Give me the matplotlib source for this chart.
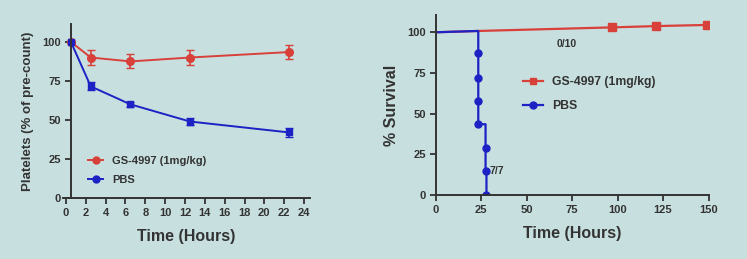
import matplotlib.pyplot as plt

# left panel: platelets
hours = [0.5, 2.5, 6.5, 12.5, 22.5]
gs_platelets = [100, 90, 87.5, 90, 93.5]
gs_err = [0, 4.5, 4.5, 4.5, 4.5]
pbs_platelets = [100, 71.5, 60, 49, 42]
pbs_err = [0, 2.5, 1.5, 2.5, 3]

# right panel: survival
gs_surv_t = [0, 23.5, 97, 121, 149]
gs_surv = [100, 100.8, 103, 103.8, 104.5]
gs_mark_t = [97, 121, 149]
gs_mark = [103, 103.8, 104.5]
pbs_surv_t = [0, 23.5, 23.5, 27.5, 27.5, 28, 28]
pbs_surv = [100, 100.8, 43.5, 43.5, 15, 15, 0]
pbs_mark_t = [23.5, 23.5, 23.5, 23.5, 27.5, 27.5, 28]
pbs_mark = [87, 72, 58, 43.5, 29, 15, 0]

RED = "#d8403a"
BLUE = "#1c22c4"
BG = "#c8dfdf"
INK = "#333333"

plt.rcParams["font.family"] = "Liberation Sans"
plt.rcParams["font.weight"] = "bold"

fig = plt.figure(figsize=(7.47, 2.59), dpi=100, facecolor=BG)
ax1 = fig.add_axes([0.0843, 0.2355, 0.3307, 0.672])
ax2 = fig.add_axes([0.583, 0.247, 0.3655, 0.695])


def style(ax):
    ax.set_facecolor(BG)
    for s in ("top", "right"):
        ax.spines[s].set_visible(False)
    for s in ("left", "bottom"):
        ax.spines[s].set_color(INK)
        ax.spines[s].set_linewidth(1.4)
    ax.tick_params(colors=INK, width=1.3, length=4, labelsize=8, pad=3)
    for lab in ax.get_xticklabels() + ax.get_yticklabels():
        lab.set_fontweight("bold")


# --- left
ax1.errorbar(hours, gs_platelets, yerr=gs_err, color=RED, marker="o", ms=5.5,
             lw=1.4, capsize=3, elinewidth=1.2, label="GS-4997 (1mg/kg)")
ax1.errorbar(hours, pbs_platelets, yerr=pbs_err, color=BLUE, marker="s", ms=5,
             lw=1.4, capsize=3, elinewidth=1.2, label="PBS")
ax1.set_xlim(-0.3, 24.6)
ax1.set_ylim(0, 111.5)
ax1.spines["left"].set_position(("data", 0.5))
ax1.set_xticks(range(0, 25, 2))
ax1.set_yticks([0, 25, 50, 75, 100])
style(ax1)
ax1.set_xlabel("Time (Hours)", fontsize=11.5, fontweight="bold", color=INK, labelpad=8)
ax1.set_ylabel("Platelets (% of pre-count)", fontsize=9.5, fontweight="bold",
               color=INK, labelpad=6)
h1 = [plt.Line2D([], [], color=RED, marker="o", ms=5, lw=1.4),
      plt.Line2D([], [], color=BLUE, marker="o", ms=5, lw=1.4)]
ax1.legend(h1, ["GS-4997 (1mg/kg)", "PBS"], loc="lower left",
           bbox_to_anchor=(0.06, 0.02), frameon=False,
           handlelength=1.4, handletextpad=0.8, labelspacing=0.75,
           labelcolor=INK, prop={"weight": "bold", "size": 8})

# --- right
ax2.plot(gs_surv_t, gs_surv, color=RED, lw=1.6)
ax2.plot(gs_mark_t, gs_mark, color=RED, marker="s", ms=5.5, lw=0)
ax2.plot(pbs_surv_t, pbs_surv, color=BLUE, lw=1.6)
ax2.plot(pbs_mark_t, pbs_mark, color=BLUE, marker="o", ms=5, lw=0)
ax2.set_xlim(0, 150)
ax2.set_ylim(0, 110.6)
ax2.set_xticks(range(0, 151, 25))
ax2.set_yticks([0, 25, 50, 75, 100])
style(ax2)
ax2.set_xlabel("Time (Hours)", fontsize=11.5, fontweight="bold", color=INK, labelpad=8)
ax2.set_ylabel("% Survival", fontsize=11.5, fontweight="bold", color=INK, labelpad=6)
ax2.text(72, 92.6, "0/10", fontsize=7.5, fontweight="bold", color=INK,
         ha="center", va="center")
ax2.text(29.5, 14.8, "7/7", fontsize=7.5, fontweight="bold", color=INK,
         ha="left", va="center")
h2 = [plt.Line2D([], [], color=RED, marker="s", ms=5, lw=1.6),
      plt.Line2D([], [], color=BLUE, marker="o", ms=5, lw=1.6)]
ax2.legend(h2, ["GS-4997 (1mg/kg)", "PBS"], loc="upper left",
           bbox_to_anchor=(0.28, 0.72), frameon=False,
           handlelength=1.6, handletextpad=0.8, labelspacing=0.95,
           labelcolor=INK, prop={"weight": "bold", "size": 8.8})

fig.savefig("out.png", dpi=100, facecolor=BG)
